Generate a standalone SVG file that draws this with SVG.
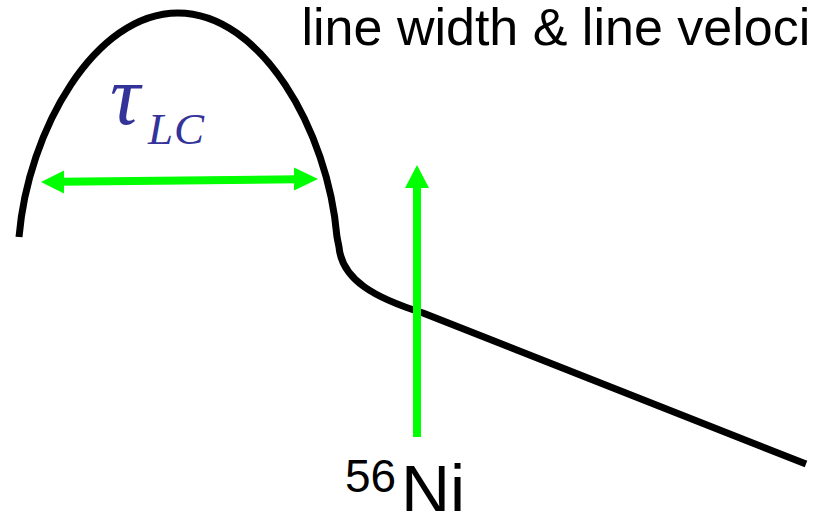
<svg xmlns="http://www.w3.org/2000/svg" width="817" height="511" viewBox="0 0 817 511">
<style>
.curve{fill:none;stroke:#000;stroke-width:7;stroke-linejoin:round}
.shaft{stroke:#00ff00;stroke-width:8;fill:none}
.head{fill:#00ff00}
.sans{font-family:"Liberation Sans",Arial,sans-serif;fill:#000}
.math{font-family:"Liberation Serif","Times New Roman",serif;font-style:italic;fill:#333399}
</style>
<rect width="817" height="511" fill="#fff"/>
<g id="lightcurve">
<path class="curve" d="M19,237 C28,130 95,13 178,13 C261,13 328,130 337,237 L339,247 C342,280 375,298 423,313 L806,464"/>
</g>
<g id="connectors">
<line class="shaft" x1="60" y1="181.7" x2="298" y2="179.3"/>
<polygon class="head" points="41,182 64,170.5 64,193.5"/>
<polygon class="head" points="318,179 294,167.5 294,190.5"/>
<line class="shaft" x1="417" y1="437" x2="417" y2="185"/>
<polygon class="head" points="417,165 405,188 429,188"/>
</g>
<g id="title">
<text class="sans" x="301.5" y="45" font-size="52">line width &amp; line veloci</text>
</g>
<g id="tau">
<text class="math" x="110" y="124" font-size="84">τ</text>
<text class="math" x="148" y="144" font-size="45" letter-spacing="1">LC</text>
</g>
<g id="ni56">
<text class="sans" x="345" y="492" font-size="46">56</text>
<text class="sans" x="401" y="513" font-size="68">Ni</text>
</g>
</svg>
